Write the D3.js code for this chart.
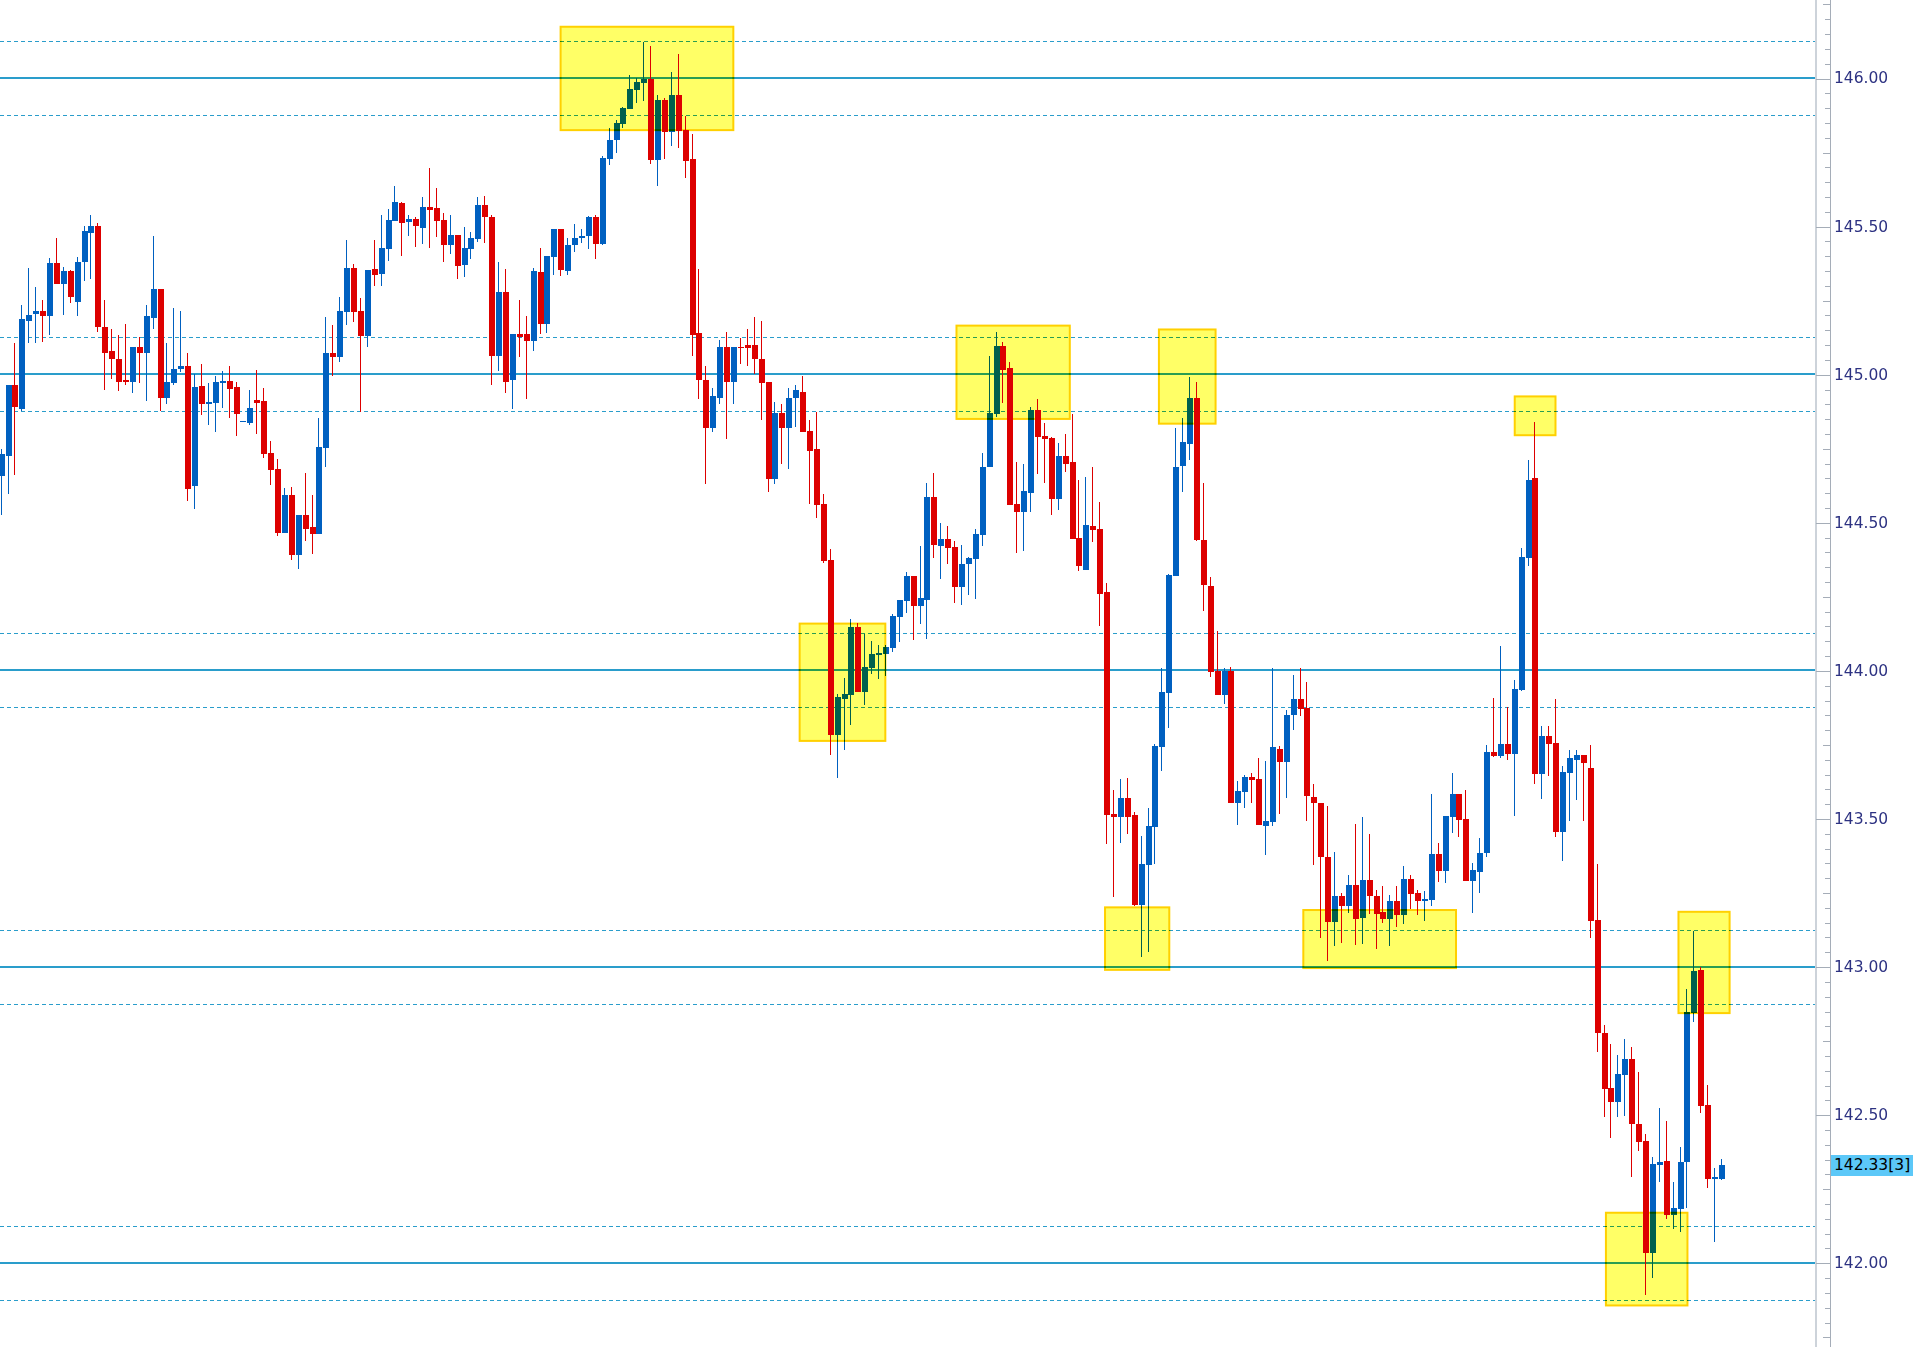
<!DOCTYPE html>
<html><head><meta charset="utf-8">
<script src="https://cdn.jsdelivr.net/npm/d3@7"></script>
<style>html,body{margin:0;padding:0;background:#fff;overflow:hidden}svg{display:block}</style>
</head><body>
<svg id="chart" width="1922" height="1347"></svg>
<script>
// ---------- data ----------
const opens = [
144.656,144.725,144.965,144.884,145.181,145.203,145.215,145.196,145.374,145.306,
145.350,145.245,145.378,145.478,145.499,145.161,145.077,145.053,144.979,144.972,
145.093,145.070,145.191,145.286,144.921,144.969,145.016,145.029,144.621,144.959,
144.899,144.902,144.970,144.976,144.956,144.838,144.835,144.912,144.909,144.733,
144.679,144.463,144.591,144.389,144.524,144.483,144.460,144.750,145.071,145.057,
145.209,145.358,145.213,145.128,145.354,145.338,145.422,145.517,145.578,145.514,
145.524,145.494,145.565,145.561,145.521,145.437,145.470,145.369,145.423,145.457,
145.571,145.531,145.063,145.278,144.979,145.137,145.137,145.113,145.346,145.171,
145.396,145.490,145.349,145.437,145.460,145.467,145.531,145.440,145.726,145.790,
145.844,145.895,145.958,145.982,145.996,145.723,145.925,145.817,145.942,145.824,
145.726,145.140,144.982,144.820,144.921,145.093,144.975,145.093,145.100,145.097,
145.053,144.972,144.645,144.868,144.820,144.921,144.941,144.809,144.746,144.563,
144.374,143.783,143.904,143.918,144.148,143.928,144.009,144.053,144.056,144.077,
144.181,144.235,144.320,144.218,144.239,144.587,144.421,144.445,144.418,144.283,
144.360,144.377,144.458,144.686,144.866,145.094,145.020,144.563,144.536,144.600,
144.878,144.791,144.784,144.578,144.723,144.703,144.448,144.340,144.489,144.479,
144.263,143.514,143.504,143.570,143.511,143.208,143.344,143.472,143.743,143.923,
144.320,144.689,144.765,144.921,144.441,144.286,143.999,143.916,143.999,143.552,
143.591,143.639,143.635,143.474,143.489,143.736,143.690,143.850,143.905,143.874,
143.574,143.551,143.371,143.150,143.239,143.204,143.276,143.163,143.293,143.237,
143.184,143.160,143.221,143.173,143.295,143.248,143.221,143.224,143.380,143.323,
143.505,143.582,143.498,143.288,143.319,143.383,143.725,143.712,143.752,143.719,
143.935,144.378,144.648,143.651,143.779,143.756,143.454,143.655,143.697,143.713,
143.672,143.158,142.776,142.591,142.543,142.634,142.688,142.468,142.411,142.034,
142.330,142.343,142.162,142.182,142.339,142.843,142.989,142.533,142.284,142.284];
const highs = [
144.746,144.965,145.106,145.232,145.357,145.296,145.249,145.391,145.461,145.363,
145.353,145.397,145.502,145.536,145.509,145.249,145.151,145.134,145.168,145.093,
145.127,145.232,145.465,145.289,145.104,145.222,145.215,145.070,145.000,145.034,
144.970,144.993,145.010,145.027,144.973,144.842,144.946,145.014,144.953,144.774,
144.713,144.615,144.619,144.524,144.666,144.591,144.851,145.192,145.165,145.260,
145.452,145.371,145.257,145.351,145.452,145.537,145.557,145.634,145.580,145.538,
145.531,145.598,145.696,145.629,145.544,145.538,145.470,145.497,145.480,145.598,
145.602,145.538,145.379,145.356,145.137,145.251,145.198,145.359,145.427,145.400,
145.490,145.490,145.460,145.507,145.490,145.534,145.538,145.736,145.831,145.857,
145.901,146.009,145.999,146.120,146.107,145.942,145.932,146.019,146.080,145.871,
145.810,145.356,145.026,144.952,145.117,145.144,145.093,145.123,145.154,145.194,
145.181,144.972,144.905,144.901,144.952,144.965,144.995,144.847,144.874,144.597,
144.411,143.921,143.975,144.175,144.161,144.124,144.100,144.087,144.087,144.191,
144.239,144.333,144.320,144.421,144.634,144.668,144.499,144.489,144.438,144.425,
144.384,144.479,144.735,145.060,145.141,145.108,145.040,144.703,144.696,144.888,
144.915,144.834,144.788,144.767,144.797,144.865,144.642,144.654,144.688,144.570,
144.296,143.597,143.634,143.637,143.523,143.442,143.536,143.750,144.009,144.327,
144.817,144.853,144.992,144.972,144.631,144.317,144.134,144.008,144.012,143.628,
143.648,143.652,143.703,143.693,144.007,143.746,143.865,143.983,144.009,143.961,
143.615,143.551,143.541,143.388,143.250,143.310,143.481,143.505,143.449,143.260,
143.273,143.241,143.273,143.339,143.308,143.259,143.255,143.582,143.418,143.509,
143.654,143.582,143.597,143.350,143.434,143.749,143.907,144.083,143.877,143.966,
144.412,144.712,144.838,143.813,143.813,143.904,143.677,143.730,143.730,143.713,
143.747,143.345,142.804,142.739,142.701,142.757,142.729,142.645,142.434,142.358,
142.522,142.479,142.272,142.391,142.925,143.120,142.997,142.600,142.320,142.350];
const lows = [
144.526,144.594,144.661,144.875,145.104,145.104,145.108,145.131,145.306,145.201,
145.239,145.198,145.314,145.320,145.142,144.945,144.985,144.942,144.965,144.935,
144.969,144.908,145.154,144.877,144.901,144.962,145.009,144.573,144.546,144.862,
144.828,144.804,144.885,144.851,144.791,144.838,144.828,144.797,144.716,144.625,
144.453,144.463,144.372,144.342,144.436,144.392,144.460,144.686,144.993,145.041,
145.165,145.176,144.871,145.091,145.297,145.297,145.381,145.517,145.400,145.467,
145.430,145.440,145.427,145.464,145.379,145.406,145.322,145.329,145.389,145.447,
145.443,144.965,145.012,144.938,144.881,145.059,144.915,145.080,145.137,145.140,
145.336,145.332,145.336,145.413,145.443,145.423,145.389,145.437,145.706,145.746,
145.831,145.895,145.915,145.921,145.709,145.635,145.726,145.770,145.763,145.662,
145.063,144.915,144.629,144.804,144.901,144.780,144.901,145.033,145.026,145.002,
144.847,144.602,144.629,144.698,144.681,144.823,144.806,144.563,144.516,144.364,
143.715,143.637,143.732,143.816,143.928,143.884,143.989,143.972,143.982,144.063,
144.097,144.195,144.104,144.158,144.107,144.381,144.310,144.360,144.229,144.222,
144.256,144.242,144.421,144.686,144.855,144.903,144.560,144.398,144.404,144.536,
144.664,144.634,144.526,144.543,144.671,144.445,144.334,144.340,144.435,144.149,
143.415,143.235,143.418,143.448,143.205,143.033,143.050,143.347,143.661,143.804,
144.320,144.601,144.712,144.436,144.200,143.979,143.916,143.888,143.552,143.477,
143.536,143.552,143.477,143.376,143.474,143.514,143.569,143.798,143.845,143.490,
143.342,143.096,143.018,143.068,143.079,143.181,143.074,143.076,143.176,143.060,
143.146,143.070,143.133,143.144,143.193,143.173,143.153,143.204,143.285,143.282,
143.451,143.438,143.288,143.180,143.248,143.370,143.708,143.705,143.698,143.509,
143.929,144.354,143.617,143.566,143.644,143.438,143.356,143.493,143.564,143.493,
143.096,142.712,142.493,142.420,142.491,142.497,142.291,142.378,141.892,141.947,
142.272,142.149,142.114,142.104,142.186,142.813,142.507,142.254,142.071,142.280];
const closes = [
144.729,144.965,144.889,145.185,145.201,145.212,145.196,145.374,145.306,145.350,
145.259,145.380,145.482,145.499,145.158,145.073,145.050,144.972,144.972,145.093,
145.070,145.195,145.286,144.921,144.972,145.019,145.029,144.614,144.958,144.899,
144.905,144.973,144.976,144.949,144.865,144.842,144.885,144.902,144.730,144.676,
144.463,144.591,144.389,144.524,144.477,144.460,144.754,145.071,145.057,145.213,
145.358,145.209,145.128,145.351,145.334,145.425,145.520,145.581,145.511,145.524,
145.501,145.565,145.554,145.517,145.437,145.470,145.366,145.427,145.460,145.571,
145.531,145.063,145.278,144.975,145.137,145.127,145.113,145.349,145.171,145.400,
145.490,145.352,145.437,145.460,145.467,145.531,145.440,145.730,145.790,145.847,
145.898,145.962,145.985,145.996,145.723,145.925,145.817,145.942,145.820,145.719,
145.134,144.979,144.820,144.925,145.093,144.975,145.093,145.090,145.090,145.053,
144.969,144.645,144.868,144.820,144.921,144.945,144.806,144.742,144.560,144.371,
143.783,143.911,143.921,144.148,143.928,144.012,144.056,144.060,144.080,144.185,
144.239,144.320,144.218,144.245,144.587,144.425,144.445,144.414,144.283,144.360,
144.381,144.462,144.688,144.869,145.094,145.013,144.560,144.536,144.605,144.878,
144.788,144.781,144.580,144.723,144.698,144.445,144.354,144.492,144.475,144.259,
143.511,143.504,143.570,143.506,143.208,143.347,143.475,143.745,143.927,144.323,
144.688,144.770,144.921,144.440,144.290,143.995,143.916,143.999,143.552,143.594,
143.639,143.631,143.477,143.493,143.740,143.690,143.850,143.905,143.871,143.576,
143.551,143.369,143.150,143.239,143.204,143.276,143.160,143.293,143.238,143.177,
143.160,143.221,143.173,143.295,143.244,143.221,143.228,143.380,143.323,143.509,
143.582,143.495,143.288,143.326,143.383,143.725,143.712,143.752,143.719,143.938,
144.384,144.644,143.651,143.779,143.752,143.454,143.657,143.703,143.713,143.686,
143.155,142.776,142.588,142.543,142.638,142.688,142.467,142.408,142.034,142.333,
142.339,142.162,142.184,142.339,142.847,142.986,142.530,142.284,142.289,142.330];

// horizontal reference levels
const solidLevels = [146, 145, 144, 143, 142];
const dashedLevels = [146.125, 145.875, 145.125, 144.875, 144.125, 143.875, 143.125, 142.875, 142.125, 141.875];

// highlighted zones (candle index range, price range)
const boxStart  = [80.9, 138.2, 167.5, 219.0, 115.5, 159.7, 188.4, 242.7, 232.2];
const boxEnd    = [105.9, 154.6, 175.7, 224.9, 127.9, 169.0, 210.5, 250.1, 244.0];
const boxTop    = [146.173, 145.164, 145.151, 144.925, 144.158, 143.200, 143.191, 143.185, 142.169];
const boxBottom = [145.824, 144.849, 144.833, 144.794, 143.762, 142.989, 142.995, 142.843, 141.856];

// axis
const tickValues = [146.0, 145.5, 145.0, 144.5, 144.0, 143.5, 143.0, 142.5, 142.0];
const tickLabels = ["146.00","145.50","145.00","144.50","144.00","143.50","143.00","142.50","142.00"];
const lastPrice = 142.33;
const lastLabel = "142.33[3]";

// ---------- drawing ----------
const W = 1922, H = 1347;
const plotRight = 1815;
const axisX = 1830;
const BLUE = "#0060C0", RED = "#DD0000", LINE = "#2A9DCB";

const svg = d3.select("#chart");
svg.append("rect").attr("width", W).attr("height", H).attr("fill", "#fff");

const x = d3.scaleLinear().domain([0, opens.length - 1]).range([1.67, 1722]);
const y = d3.scaleLinear().domain([142, 146]).range([1262.8, 78]);

const candles = opens.map((o, i) => ({i, o, h: highs[i], l: lows[i], c: closes[i]}));

// reference lines
const lines = svg.append("g").attr("shape-rendering", "crispEdges");
lines.selectAll("line.dash").data(dashedLevels).join("line")
  .attr("class", "dash")
  .attr("x1", 0).attr("x2", plotRight)
  .attr("y1", d => Math.round(y(d)) + 0.5).attr("y2", d => Math.round(y(d)) + 0.5)
  .attr("stroke", LINE).attr("stroke-width", 1).attr("stroke-dasharray", "4,3");
lines.selectAll("line.solid").data(solidLevels).join("line")
  .attr("class", "solid")
  .attr("x1", 0).attr("x2", plotRight)
  .attr("y1", d => Math.round(y(d))).attr("y2", d => Math.round(y(d)))
  .attr("stroke", LINE).attr("stroke-width", 2);

// candles
const cg = svg.append("g").attr("shape-rendering", "crispEdges");
const col = d => d.c >= d.o ? BLUE : RED;
cg.selectAll("rect.wick").data(candles).join("rect")
  .attr("class", "wick")
  .attr("x", d => Math.round(x(d.i)) - 1).attr("width", 1)
  .attr("y", d => Math.round(y(d.h)))
  .attr("height", d => Math.max(1, Math.round(y(d.l)) - Math.round(y(d.h))))
  .attr("fill", col);
cg.selectAll("rect.body").data(candles).join("rect")
  .attr("class", "body")
  .attr("x", d => Math.round(x(d.i)) - 3).attr("width", 6)
  .attr("y", d => Math.round(y(Math.max(d.o, d.c))))
  .attr("height", d => Math.max(1, Math.round(y(Math.min(d.o, d.c))) - Math.round(y(Math.max(d.o, d.c)))))
  .attr("fill", col);

// zones
const boxes = boxStart.map((s, k) => ({s, e: boxEnd[k], t: boxTop[k], b: boxBottom[k]}));
svg.append("g").selectAll("rect").data(boxes).join("rect")
  .attr("x", d => x(d.s)).attr("width", d => x(d.e) - x(d.s))
  .attr("y", d => y(d.t)).attr("height", d => y(d.b) - y(d.t))
  .attr("fill", "#FFFF66").attr("stroke", "#FFD000").attr("stroke-width", 2)
  .style("mix-blend-mode", "multiply");

// right price axis
const ax = svg.append("g").attr("shape-rendering", "crispEdges");
ax.append("rect").attr("x", plotRight).attr("y", 0).attr("width", 2).attr("height", H).attr("fill", "#CDD3DA");
ax.append("rect").attr("x", axisX).attr("y", 0).attr("width", 1).attr("height", H).attr("fill", "#A5ADB8");

const minor = d3.range(141.75, 146.30, 0.05);
const quarter = d3.range(141.75, 146.30, 0.25);
const tickG = (vals, size) => {
  const g = ax.append("g").attr("transform", `translate(${axisX},0)`)
    .call(d3.axisLeft(y).tickValues(vals).tickSize(size).tickFormat(""));
  g.select(".domain").remove();
  g.selectAll("line").attr("stroke", "#A5ADB8").attr("transform", "translate(0,0.5)");
};
tickG(minor, 5);
tickG(quarter, 7);
tickG(tickValues, 14);

const lab = ax.append("g").attr("transform", `translate(${axisX},0)`)
  .call(d3.axisRight(y).tickValues(tickValues).tickFormat((d, i) => tickLabels[i]).tickSize(0).tickPadding(4));
lab.select(".domain").remove();
lab.selectAll("text").attr("fill", "#2D3282")
  .style("font-family", "'DejaVu Sans', Verdana, sans-serif").style("font-size", "15.5px");

// last price tag
const ty = y(lastPrice);
ax.append("rect").attr("x", axisX + 1).attr("y", Math.round(ty) - 10).attr("width", 82).attr("height", 21).attr("fill", "#5CC8F8");
ax.append("text").attr("x", axisX + 4).attr("y", ty).attr("dy", "0.35em")
  .attr("fill", "#000").style("font-family", "'DejaVu Sans', Verdana, sans-serif").style("font-size", "15.5px")
  .text(lastLabel);
</script>
</body></html>
